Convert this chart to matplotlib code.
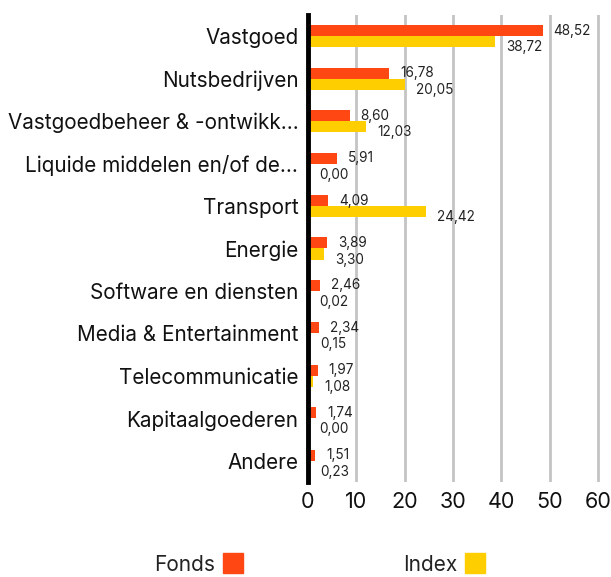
import numpy as np
import matplotlib.pyplot as plt
from matplotlib.patches import Rectangle

plt.rcParams['font.family'] = ['Inter', 'DejaVu Sans']

# Sectoren en wegingen (%)
sectoren = ['Vastgoed', 'Nutsbedrijven', 'Vastgoedbeheer & -ontwikk...',
            'Liquide middelen en/of de...', 'Transport', 'Energie',
            'Software en diensten', 'Media & Entertainment',
            'Telecommunicatie', 'Kapitaalgoederen', 'Andere']
fonds = [48.52, 16.78, 8.60, 5.91, 4.09, 3.89, 2.46, 2.34, 1.97, 1.74, 1.51]
index = [38.72, 20.05, 12.03, 0.00, 24.42, 3.30, 0.02, 0.15, 1.08, 0.00, 0.23]
reeksen = ['Fonds', 'Index']

oranje = '#FF4713'
geel = '#FFCE00'

W, H = 611, 577
fig = plt.figure(figsize=(W / 100, H / 100), dpi=100)
ax = fig.add_axes([308 / W, 1 - 482 / H, 294 / W, 467 / H])

y = np.arange(len(sectoren))
h = 0.26
ax.barh(y - h / 2, fonds, height=h, color=oranje, zorder=3)
ax.barh(y + h / 2, index, height=h, color=geel, zorder=3)

def fmt(v):
    return f'{v:.2f}'.replace('.', ',')

for yi, v in zip(y, fonds):
    ax.annotate(fmt(v), (v, yi - h / 2), xytext=(8, 0), textcoords='offset points',
                va='center', ha='left', fontsize=9.8, color='#222222')
for yi, v in zip(y, index):
    ax.annotate(fmt(v), (v, yi + h / 2), xytext=(8, -4), textcoords='offset points',
                va='center', ha='left', fontsize=9.8, color='#222222')

ax.set_xlim(0, 60.8)
ax.set_ylim(len(sectoren) - 0.5, -0.5)
ax.set_xticks(range(0, 61, 10))
ax.set_yticks(y)
ax.set_yticklabels(sectoren)
ax.tick_params(axis='y', length=0, pad=7, labelsize=14.9, labelcolor='#111111')
ax.tick_params(axis='x', length=0, pad=7, labelsize=15.5, labelcolor='#111111')

ax.grid(axis='x', color='#c4c4c4', linewidth=2, zorder=0)
for s in ['top', 'right', 'bottom']:
    ax.spines[s].set_visible(False)
ax.spines['left'].set_linewidth(3.5)
ax.spines['left'].set_color('black')
ax.spines['left'].set_zorder(4)

# legenda
for naam, kleur, xr in zip(reeksen, [oranje, geel], [215, 457]):
    fig.text(xr / W, 1 - 565 / H, naam, ha='right', va='center', fontsize=15, color='#222222')
    fig.patches.append(Rectangle(((xr + 8) / W, 1 - 573 / H), 20 / W, 20 / H,
                                 transform=fig.transFigure, color=kleur))

fig.savefig('out.png', dpi=100)
